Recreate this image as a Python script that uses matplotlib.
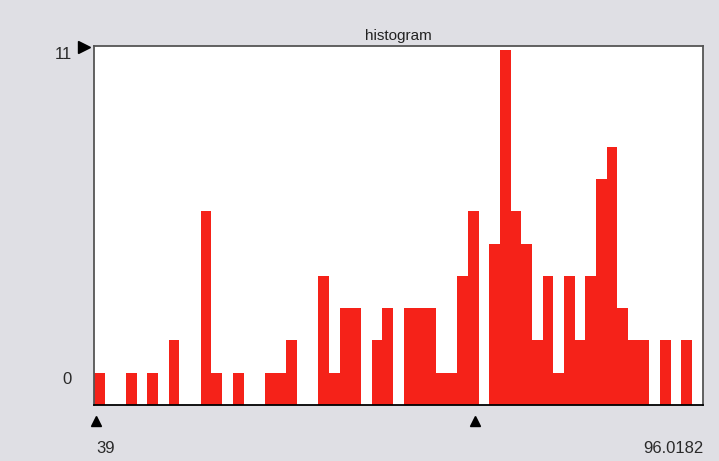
import matplotlib
matplotlib.use("Agg")
import matplotlib.pyplot as plt
import matplotlib.transforms as mtransforms

# histogram counts, one bin per unit starting at x = 39
bin_start = 39
counts = [1, 0, 0, 1, 0, 1, 0, 2, 0, 0,
          6, 1, 0, 1, 0, 0, 1, 1, 2, 0,
          0, 4, 1, 3, 3, 0, 2, 3, 0, 3,
          3, 3, 1, 1, 4, 6, 0, 5, 11, 6,
          5, 2, 4, 1, 4, 2, 4, 7, 8, 3,
          2, 2, 0, 2, 0, 2, 0]
x_min = 39
x_max = 96.0182
y_max_label = 11
marker_x = [39, 74.5]

plt.rcParams['font.family'] = ['Liberation Sans', 'DejaVu Sans']

fig = plt.figure(figsize=(7.19, 4.61), dpi=100, facecolor='#dfdfe4')
ax = fig.add_axes([94 / 719, 56 / 461, 609 / 719, 359 / 461])
ax.set_facecolor('white')

lefts = [bin_start + i for i in range(len(counts))]
ax.bar(lefts, counts, width=1.0, align='edge', color='#f52219', linewidth=0)

ax.set_xlim(x_min, x_max)
ax.set_ylim(0, 11.12)
ax.set_xticks([])
ax.set_yticks([])
for side in ['left', 'top', 'right']:
    ax.spines[side].set_color('#555555')
    ax.spines[side].set_linewidth(1.3)
ax.spines['bottom'].set_color('black')
ax.spines['bottom'].set_linewidth(1.3)

ax.set_title('histogram', fontsize=11, color='#222222', pad=4)

# y range labels and marker
ax.text(-0.036, 0.975, str(y_max_label), transform=ax.transAxes,
        ha='right', va='center', fontsize=12, color='#2a2a2a')
ax.text(-0.036, 0.07, '0', transform=ax.transAxes, ha='right', va='center', fontsize=12, color='#2a2a2a')
ax.plot([-0.016], [0.997], marker='>', markersize=8, color='black', transform=ax.transAxes, clip_on=False)

# x markers and range labels
trans = mtransforms.blended_transform_factory(ax.transData, ax.transAxes)
for mx in marker_x:
    ax.plot([mx + 0.2], [-0.045], marker='^', markersize=7, color='black', transform=trans, clip_on=False)
ax.text(0.003, -0.12, f'{x_min:g}', transform=ax.transAxes, ha='left', va='center', fontsize=12, color='#2a2a2a')
ax.text(1.0, -0.12, f'{x_max:g}', transform=ax.transAxes, ha='right', va='center', fontsize=12, color='#2a2a2a')

fig.savefig('out.png', dpi=100, facecolor=fig.get_facecolor())
